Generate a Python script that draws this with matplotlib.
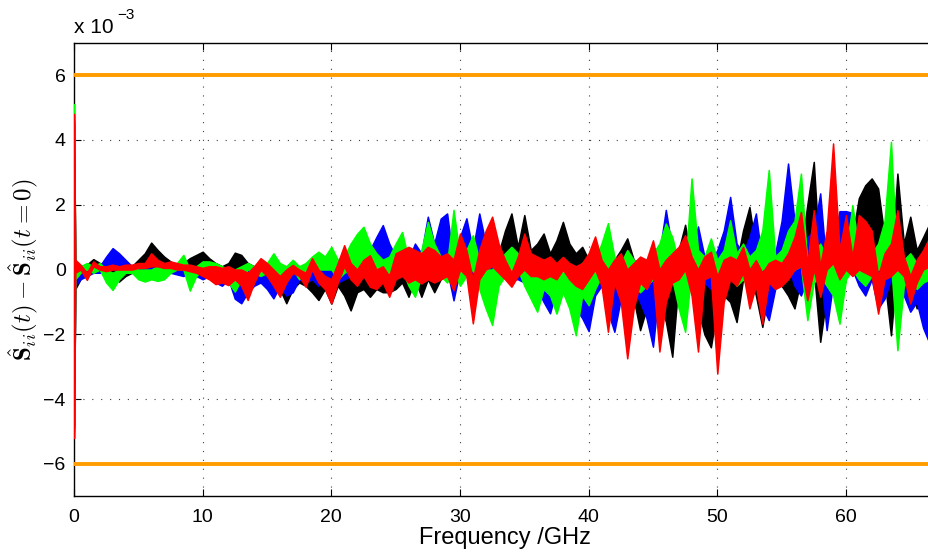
import numpy as np
import matplotlib
matplotlib.use("Agg")
from matplotlib import pyplot as plt

# frequency grid in GHz (first point is DC, then 0.5 GHz steps)
freq = np.concatenate(([0.0, 0.1], np.arange(0.5, 66.6, 0.5)))

# deviation bands, values in units of 1e-3 (upper / lower edge of each bundle)
black_hi = [4.5, 0.1, 0.1, 0.15, 0.32, 0.2, 0.1, 0.0, -0.05, 0.0,
            0.1, 0.3, 0.5, 0.83, 0.6, 0.4, 0.25, 0.1, 0.2, 0.35,
            0.45, 0.55, 0.35, 0.2, 0.1, 0.2, 0.52, 0.45, 0.2, 0.1,
            0.0, 0.1, 0.0, 0.1, 0.0, 0.1, 0.0, 0.1, 0.0, 0.0,
            0.0, 0.1, 0.0, -0.1, 0.0, -0.2, -0.1, -0.2, -0.1, -0.2,
            -0.1, 0.0, 0.1, 0.3, 0.2, 0.0, 0.3, 0.2, 0.3, 0.4,
            0.3, 0.2, 0.4, 0.3, 0.2, 0.4, 0.6, 0.5, 1.2, 1.73,
            0.7, 1.68, 0.6, 0.8, 1.11, 0.5, 0.9, 1.47, 0.8, 0.5,
            0.7, 0.3, 0.4, 0.2, 0.0, 0.3, 0.6, 0.96, 0.3, 0.0,
            0.0, 0.3, 0.2, 0.4, 0.0, 0.6, 1.38, 0.2, 0.0, -0.2,
            -0.2, 0.3, 0.5, 0.6, 0.2, 1.2, 1.93, 0.6, 0.0, 0.2,
            0.3, 0.2, 0.0, 0.1, 0.5, 2.0, 3.32, 0.0, 0.3, 0.4,
            0.3, 0.5, 1.0, 2.2, 2.6, 2.81, 2.5, 1.0, 0.0, 2.96,
            0.8, 1.63, 0.6, 1.0, 1.42]
black_lo = [-4.8, -0.6, -0.3, -0.05, 0.0, 0.0, -0.1, -0.2, -0.37, -0.2,
            -0.1, 0.0, 0.0, 0.05, 0.0, 0.0, 0.0, -0.1, 0.0, 0.0,
            0.0, 0.0, 0.0, 0.0, -0.1, 0.0, 0.0, 0.0, 0.0, -0.1,
            -0.3, -0.5, -0.3, -0.6, -1.04, -0.6, -0.4, -0.5, -0.7, -0.94,
            -0.6, -1.05, -0.5, -0.8, -1.26, -0.7, -0.6, -0.84, -0.6, -0.7,
            -0.7, -0.6, -0.4, -0.84, -0.3, -0.84, -0.3, -0.7, -0.3, -0.2,
            -0.2, -0.3, 0.0, -0.2, -0.3, 0.0, 0.0, 0.0, 0.1, 0.2,
            0.0, 0.1, 0.0, 0.1, 0.1, 0.0, 0.1, 0.1, 0.0, 0.0,
            0.0, -0.3, -0.2, -0.5, -0.8, -0.3, -0.2, 0.0, -0.9, -1.87,
            -1.2, -0.5, -1.0, -1.6, -2.69, -0.3, 0.0, -0.6, -1.2, -2.0,
            -2.4, -1.2, -0.8, -1.0, -1.62, -0.3, 0.0, -0.8, -1.77, -0.6,
            -0.2, -0.5, -0.8, -1.2, -0.3, 0.0, 0.0, -2.23, -0.8, -0.2,
            -0.3, 0.0, 0.0, 0.1, 0.2, 0.2, 0.1, -0.3, -2.03, 0.2,
            -0.3, -0.5, -1.2, -0.4, -0.1]

blue_hi = [4.6, 0.0, 0.0, 0.05, 0.1, 0.1, 0.4, 0.66, 0.5, 0.3,
           0.1, 0.0, 0.05, 0.1, 0.0, 0.05, 0.0, 0.1, 0.0, 0.1,
           0.1, 0.0, 0.0, 0.1, 0.0, 0.0, 0.0, 0.0, 0.0, 0.0,
           0.0, 0.1, 0.0, 0.0, 0.1, 0.0, 0.0, 0.1, 0.0, 0.0,
           0.1, 0.0, 0.2, 0.1, 0.3, 0.5, 0.3, 0.6, 1.0, 1.37,
           0.8, 0.4, 0.6, 0.3, 0.8, 0.5, 1.63, 0.8, 1.57, 1.73,
           0.2, 1.0, 1.58, 0.6, 1.73, 0.8, 0.6, 0.3, 0.2, 0.3,
           0.2, 0.3, 0.1, 0.2, 0.1, 0.0, 0.2, 0.1, 0.0, 0.0,
           0.0, 0.2, 0.3, 0.2, 0.0, 0.3, 0.4, 0.2, 0.3, 0.2,
           0.1, 0.0, 0.5, 1.84, 0.6, 0.4, 0.8, 0.5, 1.33, 0.4,
           0.2, 0.6, 1.2, 2.24, 0.8, 0.5, 1.0, 1.73, 0.2, 0.0,
           0.5, 1.5, 3.27, 1.5, 0.6, 1.0, 1.2, 2.35, 0.0, 0.8,
           1.8, 1.8, 1.75, 0.8, 0.3, 0.2, 0.0, 0.2, 0.5, 0.3,
           0.3, 0.0, 0.2, 0.0, 0.1]
blue_lo = [-4.9, -0.5, -0.3, -0.2, -0.1, -0.1, 0.0, 0.0, 0.0, -0.1,
           -0.1, -0.1, -0.15, -0.05, -0.15, -0.1, -0.1, -0.15, -0.2, -0.1,
           -0.2, -0.3, -0.2, -0.4, -0.5, -0.3, -0.9, -1.04, -0.7, -0.5,
           -0.4, -0.6, -0.89, -0.5, -0.8, -0.7, -0.3, -0.4, -0.3, -0.5,
           -0.3, -0.6, -0.4, -0.3, -0.2, -0.1, -0.2, 0.0, 0.0, 0.1,
           0.0, -0.3, -0.1, -0.4, -0.1, -0.3, 0.0, 0.0, -0.2, 0.0,
           -0.95, 0.0, 0.0, -0.3, 0.0, 0.0, -0.2, -0.3, -0.1, -0.3,
           -0.3, -0.4, -0.3, -0.6, -1.0, -1.35, -0.6, -0.5, -0.9, -1.2,
           -1.5, -1.9, -0.8, -0.5, -1.3, -1.92, -0.9, -0.5, -0.6, -1.0,
           -1.5, -2.38, -0.5, 0.0, -0.3, -0.5, -0.2, -0.3, 0.0, -0.4,
           -0.6, -0.3, 0.0, 0.1, -0.2, -0.3, 0.0, -0.3, -1.15, -1.56,
           -0.6, 0.0, 0.1, -0.5, -0.8, -0.3, 0.0, 0.0, -1.87, -0.4,
           0.0, 0.1, 0.0, -0.5, -0.8, -0.3, -1.2, -0.9, -0.3, -0.5,
           -0.8, -1.3, -1.0, -1.8, -2.28]

green_hi = [5.1, 0.0, 0.1, 0.2, 0.1, 0.2, 0.0, -0.1, 0.0, 0.1,
            0.1, 0.0, 0.0, 0.0, 0.1, 0.0, 0.1, 0.2, 0.45, 0.0,
            0.1, 0.25, 0.25, 0.2, 0.1, 0.0, 0.0, 0.1, 0.2, 0.1,
            0.1, 0.2, 0.5, 0.2, 0.1, 0.3, 0.1, 0.2, 0.4, 0.55,
            0.4, 0.7, 0.3, 0.4, 0.8, 1.1, 1.32, 0.8, 0.5, 0.3,
            0.4, 0.8, 1.16, 0.3, 0.0, 0.6, 1.47, 0.8, 0.4, 0.2,
            1.84, 0.4, 0.6, 1.06, 0.3, 0.0, 0.0, 0.3, 0.5, 0.7,
            0.5, 0.1, 0.0, 0.2, 0.3, 0.1, 0.0, 0.0, 0.1, 0.0,
            0.2, 0.4, 0.3, 0.8, 1.43, 0.4, 0.2, 0.6, 0.3, 0.2,
            0.3, 0.5, 0.8, 1.42, 1.0, 0.2, 0.0, 2.81, 0.6, 0.4,
            0.96, 0.3, 0.6, 1.52, 0.5, 0.8, 0.4, 0.6, 1.2, 3.07,
            0.4, 0.6, 1.2, 1.5, 2.96, 0.2, 0.5, 0.8, 0.4, 0.3,
            0.0, 0.5, 1.99, 0.6, 0.3, 0.5, 0.8, 1.5, 3.94, 0.0,
            0.3, 0.5, 0.2, 0.3, 0.1]
green_lo = [-5.0, -0.3, -0.1, 0.0, -0.1, 0.0, -0.4, -0.63, -0.3, -0.1,
            -0.1, -0.3, -0.37, -0.3, -0.35, -0.3, -0.1, 0.0, 0.0, -0.65,
            -0.2, 0.0, 0.0, -0.1, -0.2, -0.4, -0.68, -0.3, 0.0, -0.1,
            -0.2, -0.1, 0.0, -0.2, -0.2, 0.0, -0.3, -0.1, 0.0, 0.0,
            0.0, 0.0, -0.3, -0.1, 0.0, 0.0, 0.1, 0.0, -0.1, -0.2,
            -0.1, 0.0, 0.0, -0.5, -0.84, -0.2, 0.0, 0.0, -0.2, -0.4,
            0.0, -0.5, -0.2, 0.0, -0.6, -1.2, -1.71, -0.5, -0.2, 0.0,
            0.0, -0.5, -0.9, -1.3, -0.6, -0.8, -1.36, -0.7, -1.2, -2.03,
            -0.8, -1.1, -0.6, -0.2, 0.0, -0.4, -0.6, -0.2, -0.5, -0.7,
            -0.5, -0.3, 0.0, 0.0, -0.3, -1.2, -1.92, 0.0, -0.3, -0.2,
            0.0, -0.4, -0.2, 0.0, -0.5, -0.3, -0.6, -0.2, 0.0, 0.1,
            -0.6, -0.3, 0.0, 0.0, 0.1, -1.56, -0.4, -0.2, -0.5, -0.8,
            -1.67, -0.3, 0.0, -0.3, -0.5, -0.2, 0.0, 0.0, 0.2, -2.49,
            -0.5, -0.3, -0.6, -0.4, -0.3]

red_hi = [4.8, 0.3, 0.15, -0.1, 0.25, 0.1, 0.1, 0.15, 0.1, 0.15,
          0.15, 0.2, 0.2, 0.5, 0.3, 0.2, 0.25, 0.2, 0.15, 0.15,
          0.1, 0.05, 0.1, 0.1, 0.05, 0.1, 0.0, 0.0, -0.1, 0.1,
          0.35, 0.2, 0.0, -0.2, 0.0, 0.14, 0.0, -0.1, 0.35, 0.0,
          -0.2, -0.3, 0.2, 0.75, 0.2, 0.0, 0.3, 0.44, 0.0, 0.1,
          -0.2, 0.5, 0.6, 0.7, 0.6, 0.5, 0.7, 0.6, 0.4, 0.5,
          0.3, 1.11, 0.6, -0.3, 0.6, 1.2, 1.63, 0.8, 0.3, -0.1,
          0.4, 1.11, 0.5, 0.4, 0.3, 0.4, 0.2, 0.39, 0.2, 0.1,
          0.2, 0.5, 1.02, 0.3, 0.0, 0.3, 0.5, 0.0, 0.2, 0.4,
          0.3, 0.9, 0.0, 0.3, 0.5, 0.7, 1.06, 0.4, 0.0, 0.4,
          0.55, -0.2, 0.3, 0.4, 0.3, 0.7, 0.0, 0.29, -0.1, 0.2,
          0.3, 0.2, 0.5, 1.0, 1.78, 0.2, 1.83, 0.1, 1.2, 3.89,
          0.6, 1.68, 0.4, 1.68, 1.5, 1.2, -0.2, 0.5, 0.8, 1.83,
          0.4, -0.2, 0.3, 0.6, 1.0]
red_lo = [-5.2, -0.1, 0.0, -0.32, 0.1, 0.0, -0.05, 0.0, 0.0, 0.0,
          0.0, 0.05, 0.05, 0.1, 0.1, 0.05, 0.05, 0.0, 0.0, -0.05,
          -0.1, -0.2, -0.3, -0.45, -0.4, -0.48, -0.3, -0.5, -0.94, -0.4,
          0.0, -0.2, -0.5, -0.84, -0.4, -0.1, -0.2, -0.53, 0.0, -0.4,
          -0.6, -1.05, -0.4, 0.1, -0.3, -0.5, -0.2, -0.53, -0.6, -0.4,
          -0.84, -0.3, -0.2, -0.4, -0.3, -0.43, -0.3, -0.4, -0.3, -0.2,
          -0.64, 0.0, -0.2, -1.66, -0.3, 0.0, 0.1, -0.1, -0.3, -0.53,
          -0.2, 0.0, -0.2, -0.2, -0.3, -0.2, -0.3, 0.0, -0.3, -0.5,
          -0.6, -0.3, 0.0, -0.5, -1.92, -0.4, -1.0, -2.74, -1.2, -0.4,
          -0.6, -0.2, -2.53, -1.0, -0.4, -0.3, 0.0, -0.8, -2.53, -0.3,
          -0.2, -3.21, -1.0, -0.3, -0.5, -0.1, -1.2, -0.5, -1.67, -0.4,
          -0.6, -0.5, -0.3, 0.0, 0.1, -0.95, 0.0, -0.84, 0.0, 0.2,
          -0.3, 0.0, -0.2, 0.0, -0.1, -0.2, -1.36, -0.3, -0.2, 0.0,
          -0.2, -1.05, -0.4, 0.0, 0.1]

# limit lines (1e-3)
limits = [6, -6]

plt.rcParams['font.family'] = ['Liberation Sans', 'DejaVu Sans']
plt.rcParams['mathtext.fontset'] = 'cm'

fig = plt.figure(figsize=(9.29, 5.54), dpi=100)
ax = fig.add_axes([74 / 929, 0.104, (936 - 74) / 929, 0.819])

# bundles drawn in order: black, blue, green, red
bands = [(black_hi, black_lo, 'k'),
         (blue_hi, blue_lo, '#0000ff'),
         (green_hi, green_lo, '#00ff00'),
         (red_hi, red_lo, '#ff0000')]
for hi, lo, c in bands:
    ax.fill_between(freq, lo, hi, color=c, lw=1.1, edgecolor=c, zorder=3)

for v in limits:
    ax.axhline(v, color='#ff9c00', lw=2.8, zorder=4)

ax.set_xlim(0, 67)
ax.set_ylim(-7, 7)
ax.set_xticks(range(0, 70, 10))
ax.set_yticks(range(-6, 7, 2))
ax.tick_params(direction='in', top=True, right=False, length=5, labelsize=14)
ax.tick_params(axis='x', pad=9)
ax.tick_params(axis='y', pad=6)

# matlab style dotted grid
ax.grid(True, color='0.25', linestyle=(0, (1, 7)), lw=0.8)
ax.set_axisbelow(True)
ax.spines['right'].set_visible(False)
for s in ['left', 'top', 'bottom']:
    ax.spines[s].set_linewidth(1.0)

ax.set_xlabel('Frequency /GHz', fontsize=17, labelpad=1)
ax.set_ylabel(r'$\hat{\mathbf{S}}_{ii}(t) - \hat{\mathbf{S}}_{ii}(t=0)$', fontsize=18, labelpad=2)

# exponent label at top left
ax.text(0, 1.012, 'x 10', transform=ax.transAxes, fontsize=15, ha='left', va='bottom')
ax.text(0.05, 1.045, '\u22123', transform=ax.transAxes, fontsize=11, ha='left', va='bottom')

plt.savefig('out.png', dpi=100)
